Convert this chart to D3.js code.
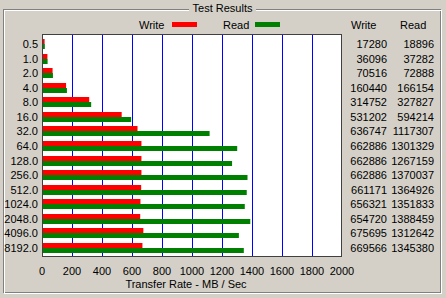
<!DOCTYPE html>
<html>
<head>
<meta charset="utf-8">
<script src="https://cdn.jsdelivr.net/npm/d3@7"></script>
<style>
  body { margin: 0; background: #d4d0c8; }
  svg { display: block; font-family: "Liberation Sans", Arial, sans-serif; font-size: 11px; }
</style>
</head>
<body>
<div id="chart"></div>
<script>
// block sizes (KB) and transfer rates (KB/s)
const sizes = ['0.5','1.0','2.0','4.0','8.0','16.0','32.0','64.0','128.0','256.0','512.0','1024.0','2048.0','4096.0','8192.0']
const writeVals = [17280,36096,70516,160440,314752,531202,636747,662886,662886,662886,661171,656321,654720,675695,669566]
const readVals = [18896,37282,72888,166154,327827,594214,1117307,1301329,1267159,1370037,1364926,1351833,1388459,1312642,1345380]
const xTicks = [0,200,400,600,800,1000,1200,1400,1600,1800,2000]

const W = 446, H = 298
const svg = d3.select('#chart').append('svg').attr('width',W).attr('height',H)

// group box
svg.append('rect').attr('x',3.5).attr('y',9.5).attr('width',437).attr('height',283).attr('fill','none').attr('stroke','#808080')
svg.append('rect').attr('x',4.5).attr('y',10.5).attr('width',437).attr('height',283).attr('fill','none').attr('stroke','#fff')
svg.append('rect').attr('x',189).attr('y',2).attr('width',67).attr('height',14).attr('fill','#d4d0c8')
svg.append('text').attr('x',222.5).attr('y',8).attr('text-anchor','middle').attr('dominant-baseline','central').text('Test Results')

// legend
const legend = [{name:'Write',color:'#ff0000',x:139,sx:172},{name:'Read',color:'#008000',x:223,sx:255}]
legend.forEach(l => {
  svg.append('text').attr('x',l.x).attr('y',25).attr('dominant-baseline','central').text(l.name)
  svg.append('rect').attr('x',l.sx).attr('y',22).attr('width',25).attr('height',5).attr('fill',l.color)
})

const x = d3.scaleLinear().domain([0,2000]).range([42,342])
const y = d3.scaleBand().domain(sizes).range([37,255])

svg.append('rect').attr('x',42).attr('y',34).attr('width',300).attr('height',223).attr('fill','#fff')

// gridlines
svg.selectAll('line.grid').data(xTicks.slice(1,-1)).enter().append('line')
  .attr('x1',d => Math.round(x(d)) + 0.5).attr('x2',d => Math.round(x(d)) + 0.5)
  .attr('y1',34).attr('y2',257).attr('stroke','#0000ff')

const bh = 5
svg.selectAll('rect.w').data(writeVals).enter().append('rect')
  .attr('x',x(0)).attr('y',(d,i) => Math.round(y(sizes[i]) + y.bandwidth()/2) - bh)
  .attr('width',d => x(d/1000) - x(0)).attr('height',bh).attr('fill','#ff0000')
svg.selectAll('rect.r').data(readVals).enter().append('rect')
  .attr('x',x(0)).attr('y',(d,i) => Math.round(y(sizes[i]) + y.bandwidth()/2))
  .attr('width',d => x(d/1000) - x(0)).attr('height',bh).attr('fill','#008000')

svg.append('rect').attr('x',42.5).attr('y',34.5).attr('width',299).attr('height',222).attr('fill','none').attr('stroke','#404040')

// y labels
svg.selectAll('text.ylab').data(sizes).enter().append('text')
  .attr('x',38).attr('y',d => y(d) + y.bandwidth()/2).attr('text-anchor','end').attr('dominant-baseline','central').text(d => d)

// x labels
svg.selectAll('text.xlab').data(xTicks).enter().append('text')
  .attr('x',d => x(d)).attr('y',271).attr('text-anchor','middle').attr('dominant-baseline','central').text(d => d)
svg.append('text').attr('x',186).attr('y',284).attr('text-anchor','middle').attr('dominant-baseline','central').text('Transfer Rate - MB / Sec')

// table
svg.append('text').attr('x',351).attr('y',25).attr('dominant-baseline','central').text('Write')
svg.append('text').attr('x',400).attr('y',25).attr('dominant-baseline','central').text('Read')
svg.selectAll('text.wv').data(writeVals).enter().append('text')
  .attr('x',387).attr('y',(d,i) => y(sizes[i]) + y.bandwidth()/2).attr('text-anchor','end').attr('dominant-baseline','central').text(d => d)
svg.selectAll('text.rv').data(readVals).enter().append('text')
  .attr('x',434).attr('y',(d,i) => y(sizes[i]) + y.bandwidth()/2).attr('text-anchor','end').attr('dominant-baseline','central').text(d => d)
</script>
</body>
</html>
